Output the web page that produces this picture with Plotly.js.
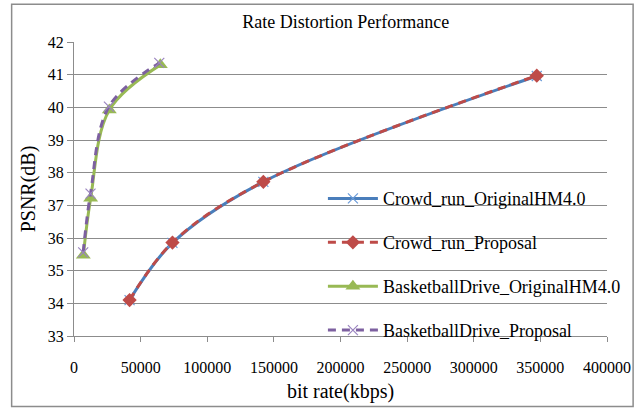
<!DOCTYPE html>
<html>
<head>
<meta charset="utf-8">
<script src="https://cdn.plot.ly/plotly-3.0.1.min.js"></script>
<style>body{margin:0;background:#fff}#chart{width:638px;height:411px}</style>
</head>
<body>
<div id="chart"></div>
<script>
var seriesNames = ["Crowd_run_OriginalHM4.0", "Crowd_run_Proposal", "BasketballDrive_OriginalHM4.0", "BasketballDrive_Proposal"];
var crowdRate = [41700, 73900, 142100, 347300];
var crowdOrigPSNR = [34.10, 35.85, 37.72, 40.96];
var crowdPropPSNR = [34.10, 35.86, 37.72, 40.97];
var bbOrigRate = [7000, 12500, 26500, 64800];
var bbPropRate = [6900, 12400, 26200, 64000];
var bbOrigPSNR = [35.47, 37.22, 39.92, 41.30];
var bbPropPSNR = [35.56, 37.36, 40.02, 41.36];
var xTicks = [0, 50000, 100000, 150000, 200000, 250000, 300000, 350000, 400000];
var yTicks = [33, 34, 35, 36, 37, 38, 39, 40, 41, 42];

var FONT = "'Liberation Serif', 'DejaVu Serif', serif";
var GRID = "#8c8c8c";

var traces = [
  {x: crowdRate, y: crowdOrigPSNR, name: seriesNames[0], mode: "lines+markers",
   line: {color: "#4a7ebb", width: 3, shape: "spline"},
   marker: {symbol: "x-thin", size: 10, line: {color: "#6b9bd8", width: 1.2}, color: "#6b9bd8"},
   legendgroup: "a"},
  {x: crowdRate, y: crowdPropPSNR, name: seriesNames[1], mode: "lines+markers",
   line: {color: "#be4b48", width: 3, dash: "8px,6px", shape: "spline"},
   marker: {symbol: "diamond", size: 11, color: "#be4b48"},
   legendgroup: "b"},
  {x: bbOrigRate, y: bbOrigPSNR, name: seriesNames[2], mode: "lines+markers",
   line: {color: "#98b954", width: 3, shape: "spline"},
   marker: {symbol: "triangle-up", size: 13, color: "#98b954"},
   legendgroup: "c"},
  {x: bbPropRate, y: bbPropPSNR, name: seriesNames[3], mode: "lines+markers",
   line: {color: "#7d60a0", width: 3, dash: "8px,6px", shape: "spline"},
   marker: {symbol: "x-thin", size: 10, line: {color: "#9b85c0", width: 1.2}, color: "#9b85c0"},
   legendgroup: "d"}
];

var layout = {
  width: 638, height: 411,
  margin: {l: 74, r: 27, t: 42, b: 75},
  paper_bgcolor: "#ffffff", plot_bgcolor: "#ffffff",
  font: {family: FONT, color: "#000", size: 16},
  title: {text: "Rate Distortion Performance", font: {family: FONT, size: 18, color: "#000"},
          x: 0.542, xanchor: "center", y: 0.946, yanchor: "middle"},
  xaxis: {range: [0, 400000], tickvals: xTicks, ticktext: xTicks.map(String),
          showgrid: false, zeroline: false, showline: true, linecolor: GRID, linewidth: 1,
          ticks: "outside", ticklen: 5, tickcolor: GRID, tickfont: {size: 16, family: FONT},
          ticklabelstandoff: 12,
          title: {text: "bit rate(kbps)", font: {size: 20, family: FONT}, standoff: 8}},
  yaxis: {range: [33, 42], tickvals: yTicks, ticktext: yTicks.map(String),
          showgrid: true, gridcolor: GRID, gridwidth: 1, zeroline: false,
          showline: true, linecolor: GRID, linewidth: 1,
          ticks: "outside", ticklen: 6, tickcolor: GRID, tickfont: {size: 16, family: FONT},
          title: {text: "PSNR(dB)", font: {size: 20, family: FONT}, standoff: 6}},
  legend: {x: 0.467, xanchor: "left", y: 0.53, yanchor: "top",
           bgcolor: "rgba(0,0,0,0)", font: {size: 18, family: FONT},
           traceorder: "grouped", tracegroupgap: 17.5, itemwidth: 50},
  shapes: [{type: "rect", xref: "paper", yref: "paper",
            x0: -0.117, x1: 1.049, y0: -0.24, y1: 1.128,
            line: {color: "#8c8c8c", width: 1.5}}],
  showlegend: true
};

Plotly.newPlot("chart", traces, layout, {displayModeBar: false, staticPlot: true});
</script>
</body>
</html>
